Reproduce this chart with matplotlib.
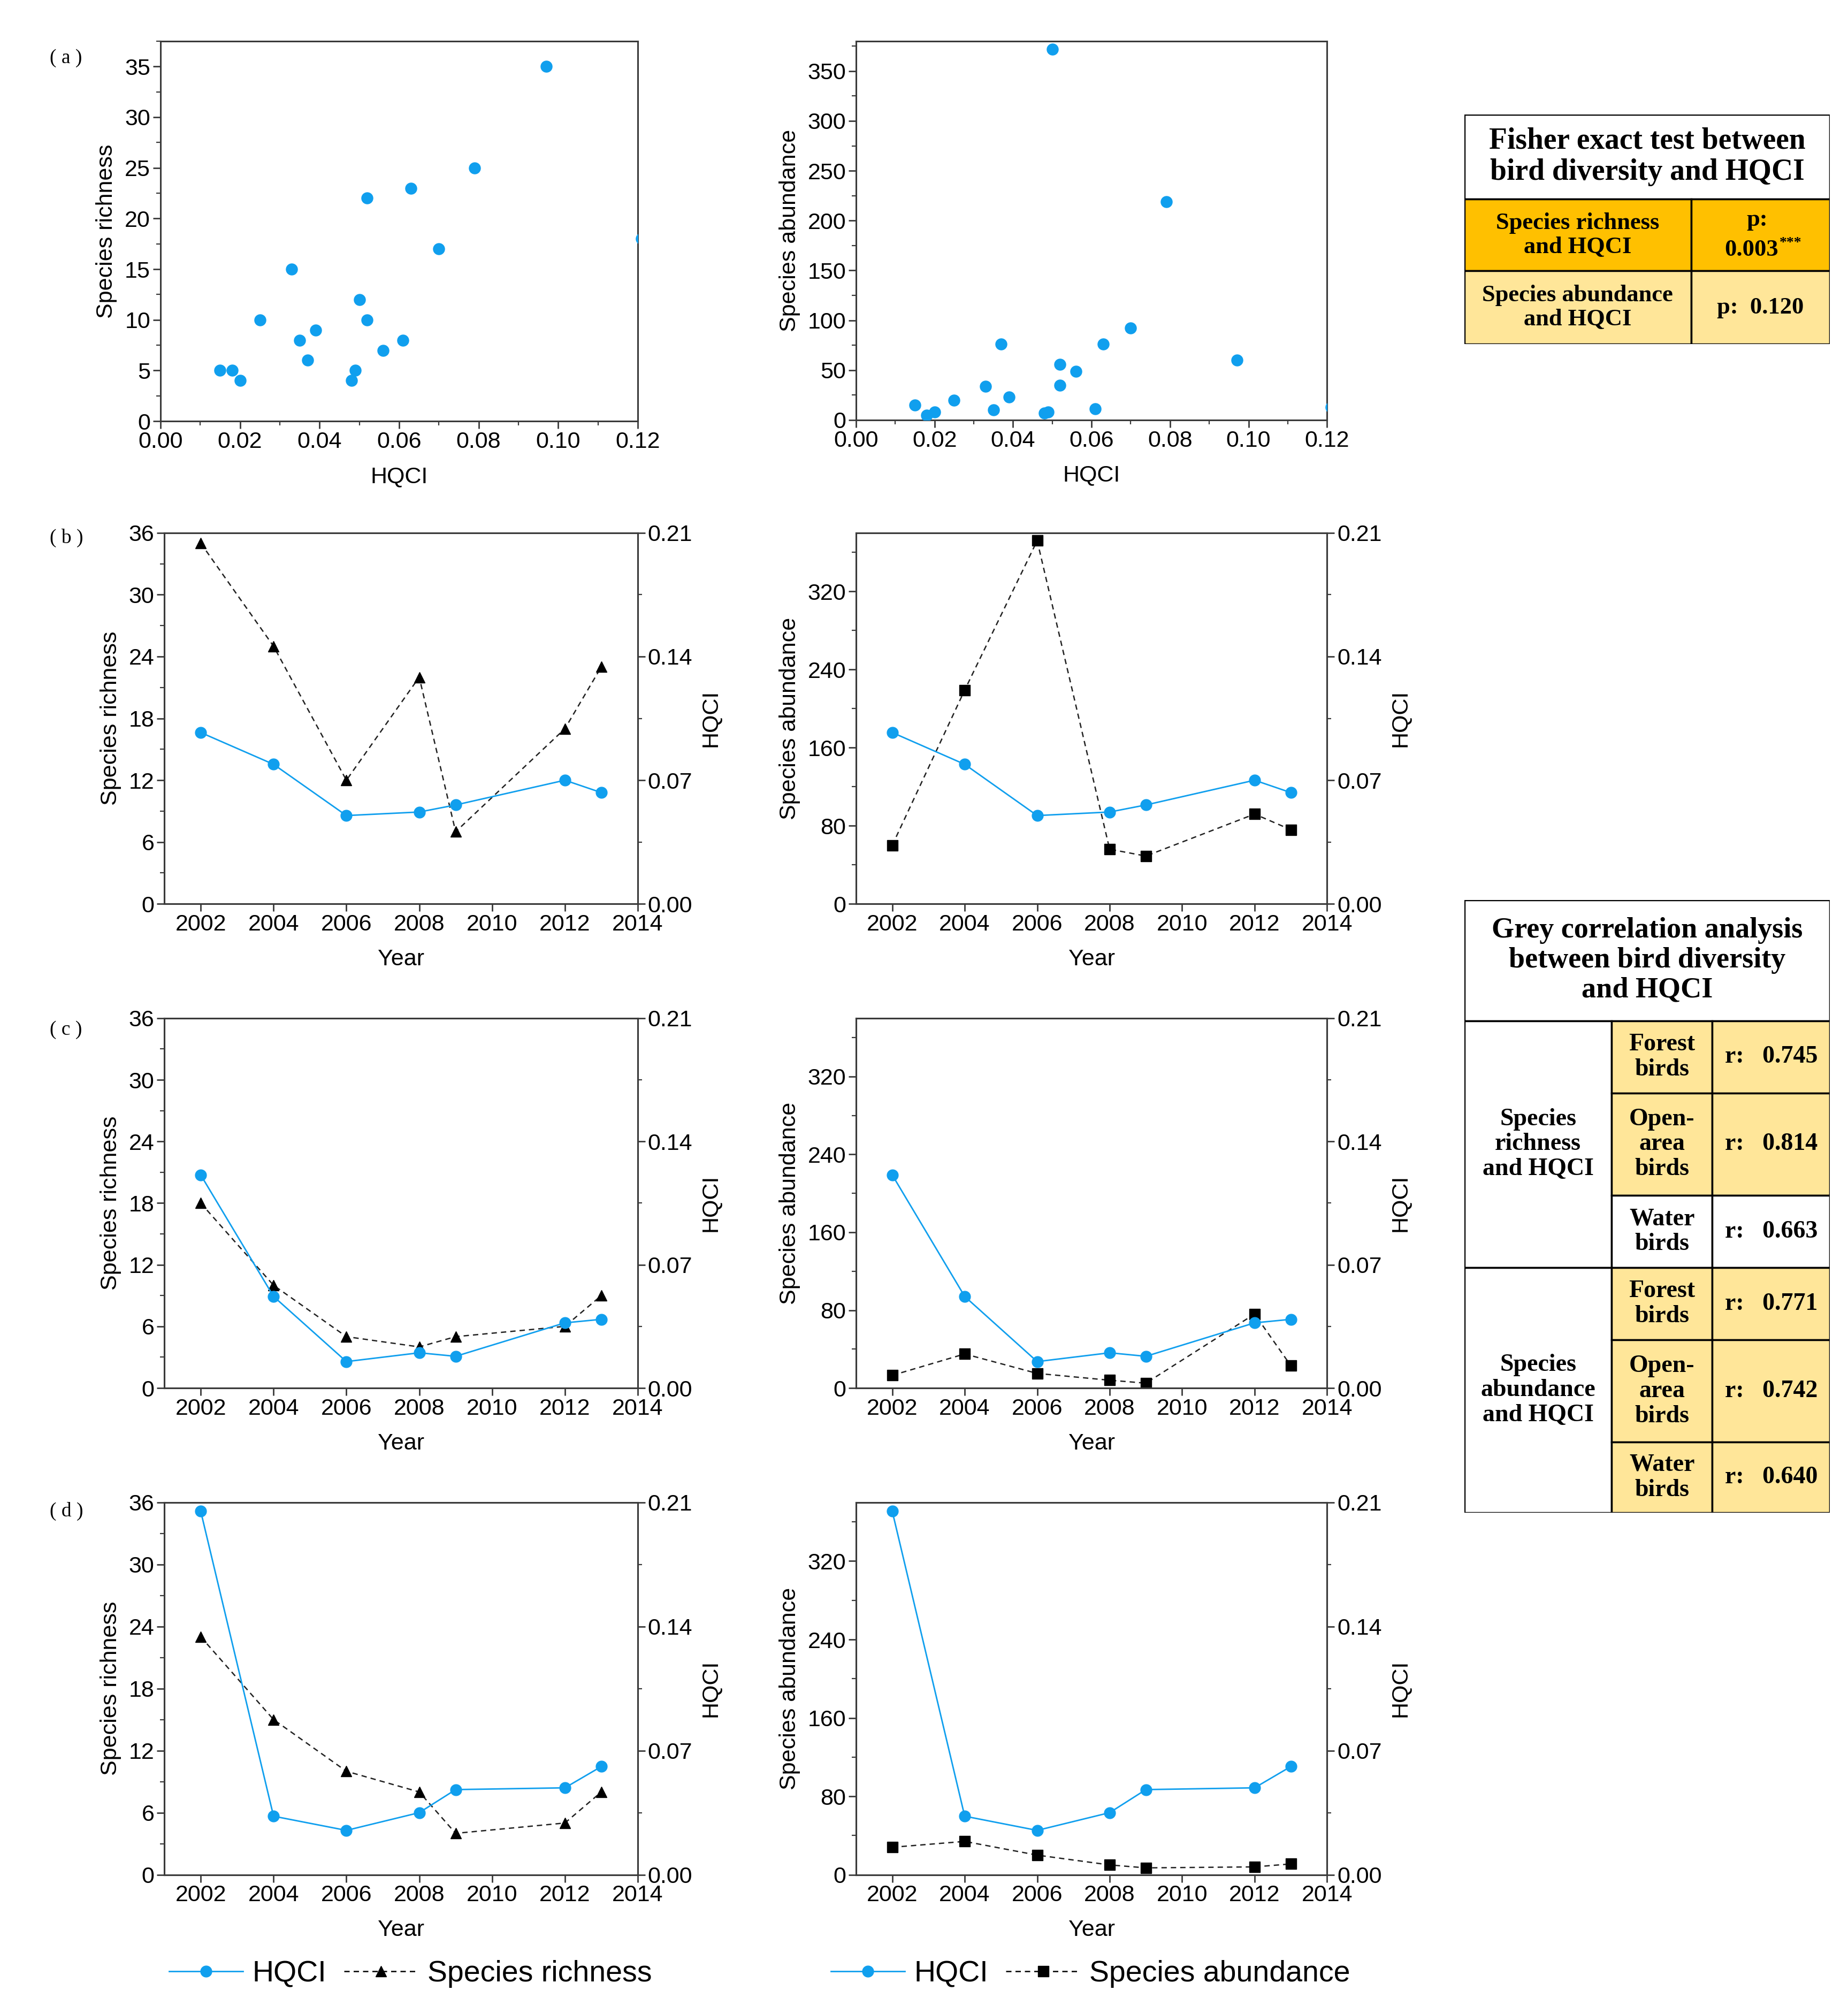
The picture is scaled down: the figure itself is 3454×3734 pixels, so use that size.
import matplotlib
matplotlib.use('Agg')
import matplotlib.pyplot as plt
from matplotlib.lines import Line2D
from matplotlib.patches import Rectangle
from matplotlib.ticker import MultipleLocator

plt.rcParams['font.family'] = ['Liberation Sans', 'DejaVu Sans']

# data
years = [2002, 2004, 2006, 2008, 2009, 2012, 2013]

hqci_b = [0.097, 0.079, 0.050, 0.052, 0.056, 0.070, 0.063]
rich_b = [35, 25, 12, 22, 7, 17, 23]
abun_b = [60, 219, 372, 56, 49, 92, 76]

hqci_c = [0.121, 0.052, 0.015, 0.020, 0.018, 0.037, 0.039]
rich_c = [18, 10, 5, 4, 5, 6, 9]
abun_c = [13, 35, 15, 8, 5, 76, 23]

hqci_d = [0.205, 0.033, 0.025, 0.035, 0.048, 0.049, 0.061]
rich_d = [23, 15, 10, 8, 4, 5, 8]
abun_d = [28, 34, 20, 10, 7, 8, 11]

fisher_title = 'Fisher exact test between\nbird diversity and HQCI'
fisher_rows = ['Species richness\nand HQCI', 'Species abundance\nand HQCI']
fisher_p = ['0.003', '0.120']
fisher_sig = ['***', '']

grey_title = 'Grey correlation analysis\nbetween bird diversity\nand HQCI'
grey_groups = ['Species\nrichness\nand HQCI', 'Species\nabundance\nand HQCI']
grey_guilds = ['Forest\nbirds', 'Open-\narea\nbirds', 'Water\nbirds']
grey_r = [0.745, 0.814, 0.663, 0.771, 0.742, 0.640]

blue = '#109FEE'
spine_c = '#3a3a3a'
fs = 31

fig = plt.figure(figsize=(34.54, 37.34), dpi=100)


def style(ax, right=False):
    for s in ax.spines.values():
        s.set_color(spine_c)
        s.set_linewidth(2.2)
    ax.tick_params(which='major', length=10, width=2, labelsize=fs, direction='out', color=spine_c)
    ax.tick_params(which='minor', length=6, width=1.6, direction='out', color=spine_c)
    if not right:
        ax.tick_params(top=False, right=False, which='both')


# (a) scatter plots
all_hq = hqci_b + hqci_c + hqci_d
all_rich = rich_b + rich_c + rich_d
all_abun = abun_b + abun_c + abun_d

ax = fig.add_axes([0.0868, 0.7892, 0.2583, 0.1902])
ax.scatter(all_hq, all_rich, s=230, color=blue, zorder=3)
ax.set_xlim(0, 0.12)
ax.set_ylim(0, 37.5)
ax.xaxis.set_major_locator(MultipleLocator(0.02))
ax.xaxis.set_minor_locator(MultipleLocator(0.01))
ax.yaxis.set_major_locator(MultipleLocator(5))
ax.yaxis.set_minor_locator(MultipleLocator(2.5))
ax.xaxis.set_major_formatter(lambda v, p: f'{v:.2f}')
ax.set_xlabel('HQCI', fontsize=fs, labelpad=18)
ax.set_ylabel('Species richness', fontsize=fs, labelpad=10)
style(ax)

ax = fig.add_axes([0.4632, 0.7898, 0.2549, 0.1896])
ax.scatter(all_hq, all_abun, s=230, color=blue, zorder=3)
ax.set_xlim(0, 0.12)
ax.set_ylim(0, 380)
ax.xaxis.set_major_locator(MultipleLocator(0.02))
ax.xaxis.set_minor_locator(MultipleLocator(0.01))
ax.yaxis.set_major_locator(MultipleLocator(50))
ax.yaxis.set_minor_locator(MultipleLocator(25))
ax.xaxis.set_major_formatter(lambda v, p: f'{v:.2f}')
ax.set_xlabel('HQCI', fontsize=fs, labelpad=18)
ax.set_ylabel('Species abundance', fontsize=fs, labelpad=10)
style(ax)


# (b)-(d) trend plots
def trend(rect, vals, hq, ylab, ymax, step, marker):
    ax = fig.add_axes(rect)
    ax2 = ax.twinx()
    ax.plot(years, vals, ls=(0, (4, 3)), lw=1.8, color='#222222', marker=marker,
            ms=15, mfc='black', mec='black', zorder=3)
    ax2.plot(years, hq, ls='-', lw=2, color=blue, marker='o', ms=15, zorder=3)
    ax.set_xlim(2001, 2014)
    ax.set_ylim(0, ymax)
    ax2.set_ylim(0, 0.21)
    ax.xaxis.set_major_locator(MultipleLocator(2))
    ax.yaxis.set_major_locator(MultipleLocator(step))
    ax.yaxis.set_minor_locator(MultipleLocator(step / 2))
    ax2.yaxis.set_major_locator(MultipleLocator(0.07))
    ax2.yaxis.set_minor_locator(MultipleLocator(0.035))
    ax2.yaxis.set_major_formatter(lambda v, p: f'{v:.2f}')
    ax.set_xlabel('Year', fontsize=fs, labelpad=18)
    ax.set_ylabel(ylab, fontsize=fs, labelpad=10)
    ax2.set_ylabel('HQCI', fontsize=fs, labelpad=10)
    style(ax)
    style(ax2, right=True)
    ax2.tick_params(left=False, which='both')
    return ax


lx, lw = 0.0889, 0.2562
rx, rw = 0.4632, 0.2549
rows = [(0.5476, 0.1857), (0.3053, 0.1851), (0.0617, 0.1864)]
rich_sets = [(rich_b, hqci_b), (rich_c, hqci_c), (rich_d, hqci_d)]
abun_sets = [(abun_b, hqci_b), (abun_c, hqci_c), (abun_d, hqci_d)]

for (y0, h), (r, hq) in zip(rows, rich_sets):
    trend([lx, y0, lw, h], r, hq, 'Species richness', 36, 6, '^')
for (y0, h), (a, hq) in zip(rows, abun_sets):
    trend([rx, y0, rw, h], a, hq, 'Species abundance', 380, 80, 's')

# panel letters
for lab, yy in zip(['( a )', '( b )', '( c )', '( d )'], [0.971, 0.7307, 0.4846, 0.2436]):
    fig.text(0.027, yy, lab, fontsize=27, family=['Liberation Serif'], va='center')

# legends
h_hq = Line2D([], [], color=blue, lw=2, marker='o', ms=15)
h_r = Line2D([], [], color='black', lw=1.8, ls=(0, (4, 3)), marker='^', ms=15)
h_a = Line2D([], [], color='black', lw=1.8, ls=(0, (4, 3)), marker='s', ms=15)
fig.legend([h_hq, h_r], ['HQCI', 'Species richness'], loc='center', bbox_to_anchor=(0.222, 0.012),
           ncol=2, frameon=False, fontsize=40, handlelength=2.5, columnspacing=0.6, handletextpad=0.3)
fig.legend([h_hq, h_a], ['HQCI', 'Species abundance'], loc='center', bbox_to_anchor=(0.59, 0.012),
           ncol=2, frameon=False, fontsize=40, handlelength=2.5, columnspacing=0.6, handletextpad=0.3)

# tables
orange = '#FFC000'
light = '#FFE699'
tkw = dict(family=['Liberation Serif'], weight='bold', ha='center', va='center', linespacing=1.15)


def cell(ax, x0, x1, y0, y1, color):
    ax.add_patch(Rectangle((x0, y0), x1 - x0, y1 - y0, facecolor=color, edgecolor='black', lw=2.5))


ax = fig.add_axes([0.7924, 0.8278, 0.1979, 0.115])
ax.set_xlim(0, 1)
ax.set_ylim(1, 0)
ax.axis('off')
fb = [0, 0.369, 0.682, 1.0]
cell(ax, 0, 1, fb[0], fb[1], 'white')
ax.text(0.5, (fb[0] + fb[1]) / 2, fisher_title, fontsize=40, **tkw)
for i, (name, p, sig) in enumerate(zip(fisher_rows, fisher_p, fisher_sig)):
    col = orange if i == 0 else light
    yc = (fb[i + 1] + fb[i + 2]) / 2
    cell(ax, 0, 0.621, fb[i + 1], fb[i + 2], col)
    cell(ax, 0.621, 1, fb[i + 1], fb[i + 2], col)
    ax.text(0.31, yc, name, fontsize=32, **tkw)
    if sig:
        ax.text(0.80, yc - 0.065, 'p:', fontsize=32, **tkw)
        ax.text(0.785, yc + 0.065, p, fontsize=32, **tkw)
        ax.text(0.862, yc + 0.035, sig, fontsize=20, family=['Liberation Serif'], weight='bold',
                ha='left', va='center')
    else:
        ax.text(0.81, yc, f'p:  {p}', fontsize=32, **tkw)

ax = fig.add_axes([0.7924, 0.2429, 0.1979, 0.3066])
ax.set_xlim(0, 1)
ax.set_ylim(1, 0)
ax.axis('off')
gb = [0, 0.197, 0.315, 0.482, 0.600, 0.718, 0.885, 1.0]
cs = [0, 0.403, 0.678, 1.0]
cell(ax, 0, 1, gb[0], gb[1], 'white')
ax.text(0.5, gb[1] / 2, grey_title, fontsize=39, **tkw)
for g, name in enumerate(grey_groups):
    top, bot = gb[1 + 3 * g], gb[4 + 3 * g]
    cell(ax, cs[0], cs[1], top, bot, 'white')
    ax.text(cs[1] / 2, (top + bot) / 2, name, fontsize=33, **tkw)
    for k, guild in enumerate(grey_guilds):
        i = 3 * g + k
        col = 'white' if i == 2 else light
        cell(ax, cs[1], cs[2], gb[i + 1], gb[i + 2], col)
        cell(ax, cs[2], cs[3], gb[i + 1], gb[i + 2], col)
        ax.text((cs[1] + cs[2]) / 2, (gb[i + 1] + gb[i + 2]) / 2, guild, fontsize=33, **tkw)
        ax.text((cs[2] + cs[3]) / 2, (gb[i + 1] + gb[i + 2]) / 2, f'r:   {grey_r[i]:.3f}',
                fontsize=33, **tkw)

fig.savefig('out.png', dpi=100)
